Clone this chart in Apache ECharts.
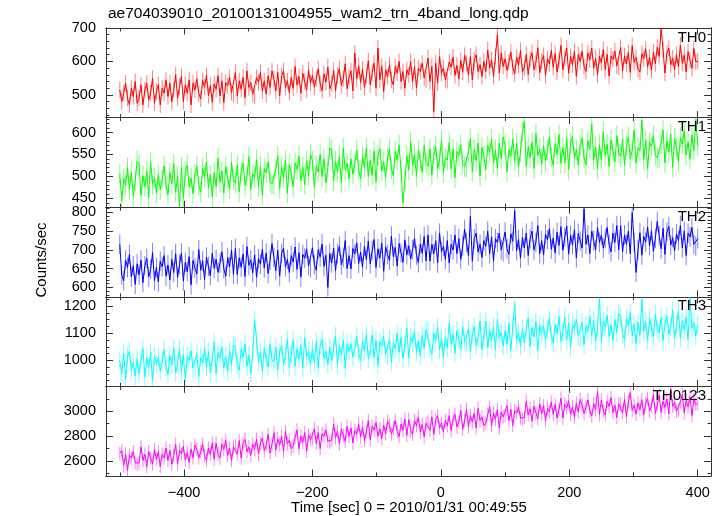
<!DOCTYPE html>
<html>
<head>
<meta charset="utf-8">
<script src="https://cdn.jsdelivr.net/npm/echarts@6/dist/echarts.min.js"></script>
<style>
html,body{margin:0;padding:0;background:#fff;}
#chart{width:723px;height:516px;}
</style>
</head>
<body>
<div id="chart"></div>
<script>
// ---- Data (3-second bins starting at -500 s) ----
const TIME_START = -500;
const TIME_STEP = 3;

const TH0 = [
 515,480,505,535,490,470,520,495,540,475,
 490,530,470,515,535,485,505,550,475,510,
 530,470,520,505,545,495,535,480,515,560,
 490,525,555,480,530,505,545,470,535,515,
 548,503,488,543,523,558,498,528,478,533,
 517,557,497,542,477,537,527,552,507,502,
 567,497,542,517,552,492,572,522,537,502,
 497,552,537,567,512,542,502,557,522,572,
 547,512,567,497,557,572,522,542,507,552,
 520,585,530,555,505,565,540,515,575,535,
 558,523,548,578,533,513,563,538,583,518,
 533,573,513,558,578,528,548,593,518,553,
 572,512,625,547,587,537,577,522,557,602,
 530,565,595,520,640,545,585,510,575,555,
 590,545,530,585,565,600,540,570,520,575,
 560,600,540,585,520,580,570,595,550,545,
 610,540,585,450,595,535,615,565,580,545,
 543,598,583,613,558,588,548,603,568,618,
 595,560,615,545,605,620,570,590,555,600,
 570,635,580,605,555,615,680,565,625,585,
 608,573,598,628,583,563,613,588,633,568,
 581,621,561,606,626,576,596,641,566,601,
 618,558,608,593,633,583,623,568,603,648,
 575,610,640,565,615,590,630,555,620,600,
 630,585,570,625,605,640,580,610,560,615,
 596,636,576,621,556,616,606,631,586,581,
 642,572,617,592,627,567,647,597,612,577,
 568,623,608,638,583,613,573,628,593,643,
 615,700,635,565,625,640,590,610,575,620,
 584,649,594,619,569,629,604,579,639,599,
 600];

const TH1 = [
 505,445,495,480,520,470,510,455,490,535,
 527,457,502,477,512,452,532,482,497,462,
 504,469,494,524,479,459,509,484,529,464,
 501,430,521,451,511,526,476,496,461,506,
 524,479,464,519,499,534,474,504,454,509,
 477,542,487,512,462,522,497,472,532,492,
 485,525,465,510,530,480,500,545,470,505,
 498,538,478,523,458,518,508,533,488,483,
 482,517,547,472,522,497,537,462,527,507,
 476,531,516,546,491,521,481,536,501,551,
 535,475,525,510,550,500,540,485,520,565,
 560,490,535,510,545,485,565,515,530,495,
 540,505,530,560,515,495,545,520,565,500,
 538,503,558,488,548,563,513,533,498,543,
 562,517,502,557,537,572,512,440,492,547,
 515,580,525,550,500,560,535,510,570,530,
 523,563,503,548,568,518,538,583,508,543,
 537,577,517,562,497,557,547,572,527,522,
 521,556,586,511,561,536,576,501,566,546,
 515,570,555,585,530,560,520,575,540,590,
 571,511,561,546,586,536,576,521,556,601,
 625,523,568,543,578,518,598,548,563,528,
 570,535,560,590,545,525,575,550,595,530,
 566,531,586,516,576,591,541,561,526,571,
 587,542,527,582,562,620,537,567,517,572,
 538,603,548,573,523,583,558,533,593,553,
 545,585,525,570,590,540,560,605,530,565,
 558,628,538,583,518,578,568,593,548,543,
 541,576,606,531,581,556,596,521,586,566,
 534,589,574,604,549,579,539,594,559,630,
 570];

const TH2 = [
 715,633,618,673,653,688,628,658,608,663,
 633,673,613,658,678,628,648,693,618,653,
 615,670,655,685,630,660,620,675,640,690,
 627,662,692,617,667,642,682,607,672,652,
 636,701,646,671,621,681,656,631,691,651,
 675,640,665,695,650,630,680,655,700,635,
 704,634,679,654,689,629,709,659,674,639,
 687,627,677,662,702,652,692,637,672,717,
 680,645,700,630,690,705,655,675,640,685,
 668,708,648,693,628,688,678,703,658,653,
 706,661,646,701,681,716,656,686,600,691,
 665,705,645,690,710,660,680,725,650,685,
 649,704,689,719,664,694,654,709,674,724,
 663,698,728,653,703,678,718,643,708,688,
 672,737,682,707,657,717,692,667,727,687,
 711,676,701,731,686,666,716,691,736,671,
 740,670,715,690,725,665,745,695,710,675,
 725,665,715,700,740,690,730,675,710,755,
 720,685,790,670,730,745,695,715,680,725,
 710,750,690,735,670,730,720,745,700,695,
 748,703,688,743,723,805,698,728,678,733,
 705,745,685,730,750,700,720,765,690,725,
 687,742,727,757,702,732,692,747,712,762,
 699,734,764,689,739,714,754,679,744,724,
 705,810,715,740,690,750,725,700,760,720,
 740,705,730,760,715,695,745,720,765,700,
 765,695,740,715,750,690,800,720,640,700,
 746,686,736,721,761,711,751,696,731,776,
 738,703,758,688,748,763,713,733,698,743,
 725,765,705,750,685,745,735,760,715,710,
 730];

const TH3 = [
 999,950,1027,929,1013,1034,964,992,943,1006,
 952,1001,1043,938,1008,973,1029,924,1015,987,
 1011,962,997,1039,976,948,1018,983,1046,955,
 986,1042,958,1021,930,1014,1000,1035,972,965,
 1025,941,1011,990,1046,976,1032,955,1004,1067,
 951,1028,1007,1049,972,1014,958,1035,986,1056,
 1047,984,963,1040,1012,1061,977,1019,949,1026,
 1150,1073,996,1031,961,1045,1010,975,1059,1003,
 994,1050,966,1029,1057,987,1015,1078,973,1022,
 1076,978,1041,1006,1055,971,1083,1013,1034,985,
 1041,992,1069,971,1055,1076,1006,1034,985,1048,
 998,1047,1089,984,1054,1019,1075,970,1061,1033,
 1061,1012,1047,1089,1026,998,1068,1033,1096,1005,
 1038,1094,1010,1073,982,1066,1052,1087,1024,1017,
 1078,994,1064,1043,1099,1029,1085,1008,1057,1120,
 1009,1086,1065,1107,1030,1072,1016,1093,1044,1114,
 1108,1045,1024,1101,1073,1122,1038,1080,1010,1087,
 1047,1138,1061,1096,1026,1110,1075,1040,1124,1068,
 1061,1117,1033,1096,1124,1054,1082,1145,1040,1089,
 1144,1046,1109,1074,1123,1039,1151,1081,1102,1053,
 1109,1060,1137,1039,1123,1210,1074,1102,1053,1116,
 1065,1114,1156,1051,1121,1086,1142,1037,1128,1100,
 1126,1077,1112,1154,1091,1063,1133,1098,1161,1070,
 1103,1159,1075,1138,1047,1131,1117,1152,1089,1082,
 1141,1057,1127,1106,1162,1092,1148,1071,1120,1230,
 1067,1144,1123,1165,1088,1130,1074,1151,1102,1172,
 1161,1098,1077,1154,1126,1175,1091,1133,1063,1140,
 1093,1225,1107,1142,1072,1156,1121,1086,1170,1114,
 1102,1158,1074,1137,1165,1095,1123,1186,1081,1130,
 1181,1083,1146,1111,1160,1076,1232,1118,1139,1090,
 1130];

const TH0123 = [
 2660,2685,2565,2655,2525,2645,2625,2675,2585,2575,
 2585,2715,2605,2655,2555,2675,2625,2575,2695,2615,
 2675,2555,2655,2625,2705,2605,2685,2575,2645,2735,
 2578,2688,2658,2718,2608,2668,2588,2698,2628,2728,
 2695,2625,2675,2735,2645,2605,2705,2655,2745,2615,
 2745,2655,2625,2735,2695,2765,2645,2705,2605,2715,
 2725,2655,2765,2625,2745,2775,2675,2715,2645,2735,
 2695,2775,2655,2745,2785,2685,2725,2815,2665,2735,
 2828,2688,2778,2728,2798,2678,2838,2738,2768,2698,
 2720,2790,2850,2700,2800,2750,2830,2680,2810,2770,
 2780,2860,2740,2830,2700,2820,2800,2850,2760,2750,
 2768,2898,2788,2838,2738,2858,2808,2758,2878,2798,
 2865,2745,2845,2815,2895,2795,2875,2765,2835,2925,
 2770,2880,2850,2910,2800,2860,2780,2890,2820,2920,
 2887,2817,2867,2927,2837,2797,2897,2847,2937,2807,
 2935,2845,2815,2925,2885,2955,2835,2895,2795,2905,
 2915,2845,2955,2815,2935,2965,2865,2905,2835,2925,
 2885,2965,2845,2935,2975,2875,2915,3005,2855,2925,
 3015,2875,2965,2915,2985,2865,3025,2925,2955,2885,
 2905,2975,3035,2885,2985,2935,3015,2865,2995,2955,
 2965,3045,2925,3015,2885,3005,2985,3035,2945,2935,
 2950,3080,2970,3020,2920,3040,2990,2940,3060,2980,
 3045,2925,3025,2995,3075,2975,3055,2945,3015,3105,
 2945,3055,3025,3085,2975,3035,2955,3065,2995,3095,
 3052,2982,3032,3092,3002,2962,3062,3012,3160,2972,
 3090,3000,2970,3080,3040,3110,2990,3050,2950,3060,
 3057,2987,3097,2957,3077,3150,3007,3047,2977,3067,
 3013,3093,2973,3063,3103,3003,3043,3133,2983,3053,
 3130,2990,3080,3030,3100,2980,3180,3040,3070,3000,
 3007,3077,3137,2987,3087,3037,3117,2967,3097,3057,
 3060];

// half-length of the (light) error bars
const ERRORS = [24, 23, 26, 34, 54];

const PANEL_NAMES = ['TH0','TH1','TH2','TH3','TH0123'];
const PANEL_DATA = [TH0, TH1, TH2, TH3, TH0123];
const PANEL_COLORS = ['#ff0000','#00ff00','#0000ff','#00ffff','#ff00ff'];

// y ranges and tick values per panel
const Y_MIN = [432, 430, 575, 904, 2480];
const Y_MAX = [700, 634, 814, 1234, 3200];
const Y_MAJOR = [
 [500,600,700],
 [450,500,550,600],
 [600,650,700,750,800],
 [1000,1100,1200],
 [2600,2800,3000]
];
const Y_MINOR = [
 [440,460,480,520,540,560,580,620,640,660,680],
 [440,460,470,480,490,510,520,530,540,560,570,580,590,610,620,630],
 [580,590,610,620,630,640,660,670,680,690,710,720,730,740,760,770,780,790,810],
 [925,950,975,1025,1050,1075,1125,1150,1175,1225],
 [2500,2700,2900,3100]
];

const X_MIN = -521.5, X_MAX = 420.7;
const X_MAJOR = [-400,-200,0,200,400];
const X_MINOR = [-500,-300,-100,100,300];

const TITLE = 'ae704039010_20100131004955_wam2_trn_4band_long.qdp';
const Y_NAME = 'Counts/sec';
const X_NAME = 'Time [sec] 0 = 2010/01/31 00:49:55';

// ---- Layout ----
const GRID_LEFT = 106, GRID_RIGHT = 12, GRID_TOP = 28, PANEL_H = 89.6;
const FONT = '"Liberation Sans", Arial, Helvetica, sans-serif';
const AXIS_COLOR = '#333';

const chart = echarts.init(document.getElementById('chart'), null, {renderer:'canvas'});

const grids = [], xAxes = [], yAxes = [], series = [], graphics = [];

function fmtX(v){ return String(v).replace('-', '\u2212'); }
function fmtY(v){ return String(v); }

function makeX(gi, pos, ticks, len, labels){
  return {
    type:'value', gridIndex:gi, position:pos, min:X_MIN, max:X_MAX,
    axisLine:{show:true, onZero:false, lineStyle:{color:AXIS_COLOR, width:1}},
    axisTick:{show:true, inside:true, length:len, customValues:ticks, lineStyle:{color:AXIS_COLOR, width:1}},
    axisLabel:{show:!!labels, customValues:X_MAJOR, formatter:fmtX, color:'#000',
      fontFamily:FONT, fontSize:14.5, margin:9},
    splitLine:{show:false}, minorTick:{show:false}
  };
}
function makeY(gi, pos, ticks, len, labels, p){
  return {
    type:'value', gridIndex:gi, position:pos, min:Y_MIN[p], max:Y_MAX[p],
    axisLine:{show:true, onZero:false, lineStyle:{color:AXIS_COLOR, width:1}},
    axisTick:{show:true, inside:true, length:len, customValues:ticks, lineStyle:{color:AXIS_COLOR, width:1}},
    axisLabel:{show:!!labels, customValues:Y_MAJOR[p], formatter:fmtY, color:'#000',
      fontFamily:FONT, fontSize:14.5, margin:10},
    splitLine:{show:false}, minorTick:{show:false}
  };
}

for (let p = 0; p < 5; p++) {
  grids.push({left:GRID_LEFT, right:GRID_RIGHT, top:GRID_TOP + p*PANEL_H, height:PANEL_H, containLabel:false});
  const xi = xAxes.length;
  xAxes.push(makeX(p,'bottom',X_MAJOR,6.5,p===4));
  xAxes.push(makeX(p,'bottom',X_MINOR,3.5,false));
  xAxes.push(makeX(p,'top',X_MAJOR,6.5,false));
  xAxes.push(makeX(p,'top',X_MINOR,3.5,false));
  const yi = yAxes.length;
  yAxes.push(makeY(p,'left',Y_MAJOR[p],7,true,p));
  yAxes.push(makeY(p,'left',Y_MINOR[p],3.5,false,p));
  yAxes.push(makeY(p,'right',Y_MAJOR[p],7,false,p));
  yAxes.push(makeY(p,'right',Y_MINOR[p],3.5,false,p));

  const vals = PANEL_DATA[p];
  const err = ERRORS[p];
  const pts = vals.map((v,i)=>[TIME_START + i*TIME_STEP, v]);
  const bars = vals.map((v,i)=>[TIME_START + i*TIME_STEP, v - err, v + err]);
  const col = PANEL_COLORS[p];
  // light error bars
  series.push({type:'custom', xAxisIndex:xi, yAxisIndex:yi, data:bars, silent:true, z:2,
    animation:false, clip:true,
    encode:{x:0, y:[1,2]},
    renderItem:function(params, api){
      const lo = api.coord([api.value(0), api.value(1)]);
      const hi = api.coord([api.value(0), api.value(2)]);
      const cs = params.coordSys;
      return {type:'line', shape:{x1:lo[0], y1:lo[1], x2:hi[0], y2:hi[1]},
        style:{stroke:col, lineWidth:1, opacity:0.5},
        clipPath:{type:'rect', shape:{x:cs.x, y:cs.y, width:cs.width, height:cs.height}}};
    }});
  // main curve
  series.push({type:'line', xAxisIndex:xi, yAxisIndex:yi, data:pts, showSymbol:false, silent:true,
    lineStyle:{color:col, width:1}, z:3, animation:false, clip:true});

  graphics.push({type:'text', right:723-706, top:GRID_TOP + p*PANEL_H + 2, z:100,
    style:{text:PANEL_NAMES[p], fill:'#000', font:'15px ' + FONT, textAlign:'right'}});
}

graphics.push({type:'text', left:108, top:6, z:100,
  style:{text:TITLE, fill:'#000', font:'15.5px ' + FONT}});
graphics.push({type:'text', x:42, y:260, rotation:Math.PI/2, z:100,
  style:{text:Y_NAME, fill:'#000', font:'15px ' + FONT, textAlign:'center', textVerticalAlign:'middle'}});
graphics.push({type:'text', x:409, y:508, z:100,
  style:{text:X_NAME, fill:'#000', font:'15px ' + FONT, textAlign:'center', textVerticalAlign:'middle'}});

chart.setOption({
  animation:false,
  backgroundColor:'#fff',
  grid:grids, xAxis:xAxes, yAxis:yAxes, series:series, graphic:graphics
});
</script>
</body>
</html>
